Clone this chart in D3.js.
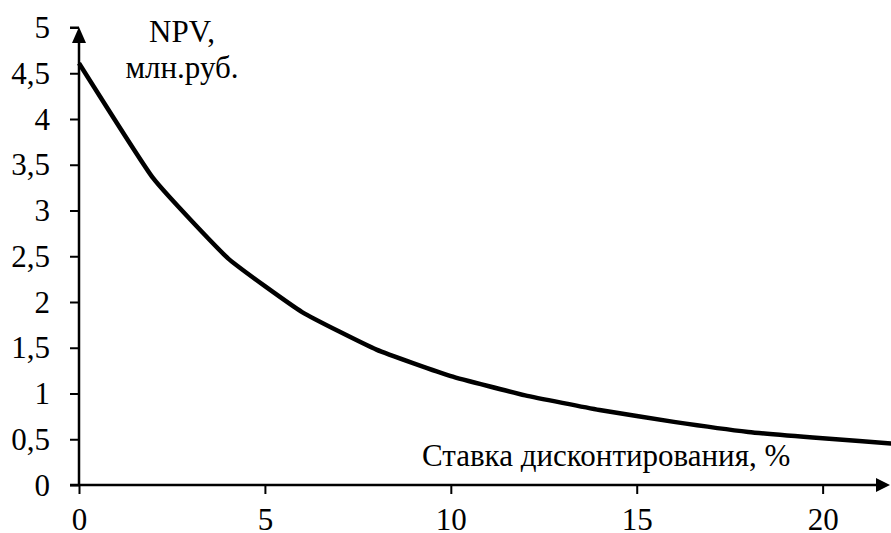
<!DOCTYPE html>
<html>
<head>
<meta charset="utf-8">
<script src="https://cdn.jsdelivr.net/npm/d3@7"></script>
<style>
  html, body { margin: 0; padding: 0; background: #fff; }
  svg { display: block; }
</style>
</head>
<body>
<svg id="chart" width="891" height="533"></svg>
<script>
// Discount rate, % and NPV, mln rub.
const rates = [0, 2, 4, 6, 8, 10, 12, 14, 16, 18, 20, 22];
const npv   = [4.61, 3.35, 2.48, 1.89, 1.48, 1.19, 0.98, 0.82, 0.69, 0.58, 0.51, 0.45];
const xTicks = [0, 5, 10, 15, 20];
const yTicks = [0, 0.5, 1, 1.5, 2, 2.5, 3, 3.5, 4, 4.5, 5];
const yTitle = ["NPV,", "млн.руб."];
const xTitle = "Ставка дисконтирования, %";

const FONT = "'Liberation Serif', 'Times New Roman', Times, serif";
const SIZE = "31px";
const svg = d3.select("#chart");
const x = d3.scaleLinear().domain([0, 22]).range([79, 897]);
const y = d3.scaleLinear().domain([0, 5]).range([485, 27.5]);
const fmt = d => String(d).replace(".", ",");

// Y axis
const yAxis = svg.append("g")
  .attr("transform", `translate(${x(0)},0)`)
  .call(d3.axisLeft(y).tickValues(yTicks).tickFormat(fmt).tickSize(9).tickPadding(20));
yAxis.attr("font-family", null).attr("font-size", null);
yAxis.select(".domain").remove();
yAxis.selectAll(".tick line").attr("stroke", "#000").attr("stroke-width", 2);
yAxis.selectAll(".tick text")
  .style("font-family", FONT).style("font-size", SIZE).attr("fill", "#000").attr("dy", "0.33em");

// X axis
const xAxis = svg.append("g")
  .attr("transform", `translate(0,${y(0)})`)
  .call(d3.axisBottom(x).tickValues(xTicks).tickFormat(fmt).tickSize(9).tickPadding(0));
xAxis.attr("font-family", null).attr("font-size", null);
xAxis.select(".domain").remove();
xAxis.selectAll(".tick line").attr("stroke", "#000").attr("stroke-width", 2);
xAxis.selectAll(".tick text")
  .style("font-family", FONT).style("font-size", SIZE).attr("fill", "#000")
  .attr("y", 530 - y(0)).attr("dy", null);

// Axis lines with arrowheads
svg.append("line")
  .attr("x1", 70).attr("y1", y(0)).attr("x2", 884).attr("y2", y(0))
  .attr("stroke", "#000").attr("stroke-width", 2.5);
svg.append("path")
  .attr("d", `M890,${y(0)} L876,${y(0) - 7} L876,${y(0) + 7} Z`)
  .attr("fill", "#000");
svg.append("line")
  .attr("x1", x(0)).attr("y1", y(0)).attr("x2", x(0)).attr("y2", 34)
  .attr("stroke", "#000").attr("stroke-width", 2.5);
svg.append("path")
  .attr("d", `M${x(0)},27 L${x(0) - 7},43 L${x(0) + 7},43 Z`)
  .attr("fill", "#000");
svg.append("line")
  .attr("x1", 70).attr("y1", 27.5).attr("x2", x(0)).attr("y2", 27.5)
  .attr("stroke", "#000").attr("stroke-width", 2);

// NPV curve
const line = d3.line()
  .x((d, i) => x(rates[i]))
  .y(d => y(d))
  .curve(d3.curveCardinal.tension(0.6));
svg.append("path")
  .datum(npv)
  .attr("d", line)
  .attr("fill", "none")
  .attr("stroke", "#000")
  .attr("stroke-width", 4.5)
  .attr("stroke-linejoin", "round");

// Axis titles
svg.selectAll(".ytitle").data(yTitle).enter().append("text")
  .attr("x", 182).attr("y", (d, i) => 42 + i * 36)
  .attr("text-anchor", "middle")
  .style("font-family", FONT).style("font-size", SIZE)
  .text(d => d);
svg.append("text")
  .attr("x", 422).attr("y", 466)
  .style("font-family", FONT).style("font-size", SIZE)
  .text(xTitle);
</script>
</body>
</html>
